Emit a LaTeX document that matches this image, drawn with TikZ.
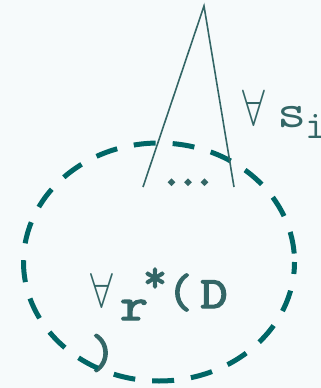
\documentclass[tikz,border=0pt]{standalone}
\usepackage{fontspec}
\usepackage{graphicx}
\newfontfamily\monoheavy[FakeBold=3]{Latin Modern Mono}
\newfontfamily\monodots[FakeBold=9]{Latin Modern Mono}
\newfontfamily\monolight{Latin Modern Mono}
\definecolor{bg}{HTML}{F6FAFB}
\definecolor{ring}{HTML}{006666}
\definecolor{ink}{HTML}{336666}
\tikzset{
  txt/.style={inner sep=0pt, outer sep=0pt, text=ink, anchor=base},
  ctxt/.style={inner sep=0pt, outer sep=0pt, text=ink, anchor=center},
  edge/.style={draw=ink, line width=1.6pt},
  ringstyle/.style={draw=ring, line width=5pt, dash pattern=on 22pt off 17pt, dash phase=10pt}
}
\newcommand{\bigfa}[2]{\scalebox{#1}[#2]{$\forall$}}
\newcommand{\wide}[1]{\scalebox{1.18}[1]{#1}}
\begin{document}
\begin{tikzpicture}[x=1pt,y=-1pt]
  \fill[bg] (0,0) rectangle (321,388);
  \useasboundingbox (0,0) rectangle (321,388);
  % label forall r*(D ) (paren sits under the ring)
  \node[txt] (fa2) at (102,307) {\bigfa{4.1}{4.9}};
  \node[txt] (r2) at (134,320) {\fontsize{46}{50}\selectfont\monoheavy\wide{r}};
  \node[ctxt] (st2) at (155,280) {\fontsize{46}{50}\selectfont\monoheavy *};
  \node[ctxt] (lp2) at (180,292.5) {\fontsize{48}{50}\selectfont\monoheavy (};
  \node[txt] (d2) at (214,308) {\fontsize{45}{50}\selectfont\monoheavy\wide{D}};
  \node[ctxt] (rp2) at (103,353) {\fontsize{48}{50}\selectfont\monoheavy )};
  % dashed ring
  \draw[ringstyle] (159,262) ellipse [x radius=135.5, y radius=119];
  % triangle
  \coordinate (apex) at (204,6);
  \coordinate (bl) at (143,187);
  \coordinate (br) at (234,187);
  \draw[edge] (bl) -- (apex) -- (br);
  % dots
  \node[txt] (dots) at (188,184) {\fontsize{32}{34}\selectfont\monodots ...};
  % label forall s_i
  \node[txt] (fa1) at (253.5,125) {\bigfa{4.1}{5.1}};
  \node[txt] (s1) at (292.5,127) {\fontsize{48}{50}\selectfont\monolight\wide{s}};
  \node[txt] (i1) at (316,138) {\fontsize{40}{44}\selectfont\monolight i};
\end{tikzpicture}
\end{document}
